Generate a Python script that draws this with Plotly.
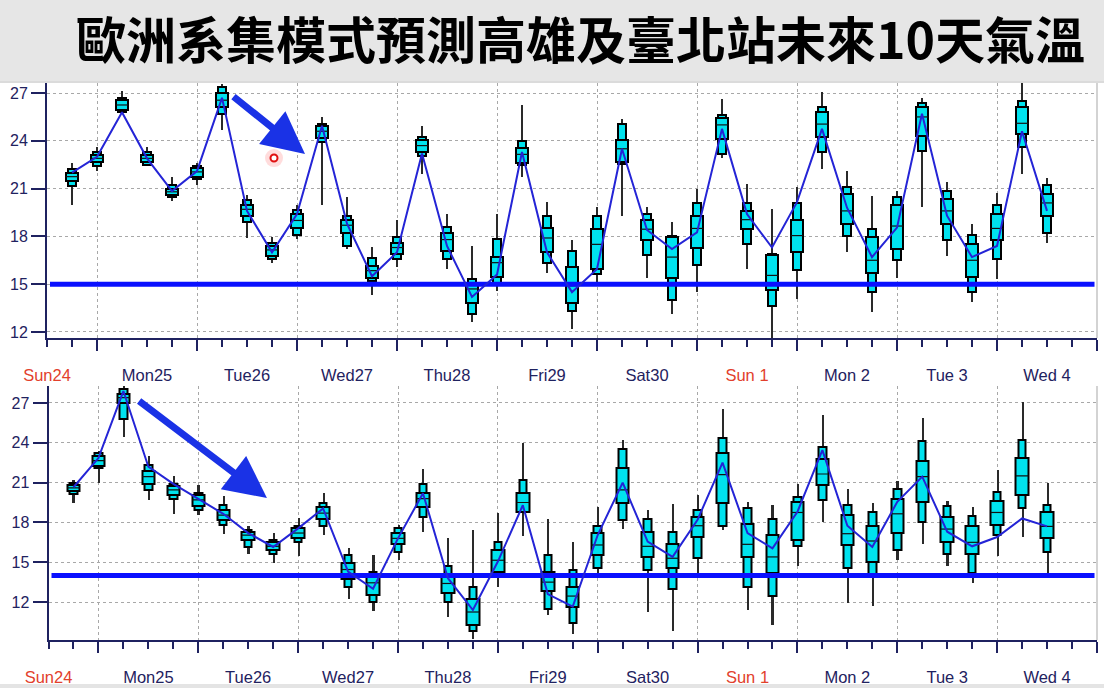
import plotly.graph_objects as go

# ---------------- data ----------------
STEPS = list(range(1, 41))  # 6-hourly steps
DAY_POS = list(range(0, 41, 4))
DAY_LABELS = ["Sun24", "Mon25", "Tue26", "Wed27", "Thu28", "Fri29", "Sat30",
              "Sun 1", "Mon 2", "Tue 3", "Wed 4"]
SUNDAYS = {"Sun24", "Sun 1"}
Y_TICKS = [12, 15, 18, 21, 24, 27]

TITLE = "歐洲系集模式預測高雄及臺北站未來10天氣溫"

# top panel
top_min = [20.0, 22.1, 25.7, 22.45, 20.25, 21.2, 24.7, 17.9, 16.3, 17.85, 20.0, 17.2, 14.3, 16.05, 21.9, 15.95,
           12.6, 14.6, 21.7, 15.7, 12.2, 15.1, 19.3, 15.4, 13.15, 14.5, 22.95, 15.95, 11.65, 14.1, 22.25, 17.0,
           13.25, 15.4, 19.85, 16.8, 13.85, 15.3, 21.9, 17.6]
top_p10 = [21.15, 22.45, 25.8, 22.5, 20.45, 21.6, 25.7, 18.9, 16.6, 18.1, 23.9, 17.4, 15.2, 16.6, 23.05, 16.6,
           13.1, 15.1, 22.5, 16.35, 13.3, 15.65, 22.55, 16.85, 14.0, 16.2, 23.15, 17.5, 13.6, 15.9, 23.3, 18.05,
           14.5, 16.5, 23.35, 17.75, 14.5, 16.6, 23.6, 18.2]
top_p25 = [21.5, 22.65, 25.95, 22.7, 20.6, 21.75, 26.1, 19.3, 16.8, 18.55, 24.2, 18.2, 15.4, 16.9, 23.3, 17.1,
           13.8, 15.45, 22.6, 17.0, 13.8, 15.95, 22.65, 17.8, 15.4, 17.3, 24.1, 18.45, 14.65, 17.0, 24.25, 18.8,
           15.7, 17.2, 24.3, 18.8, 15.45, 17.75, 24.4, 19.3]
top_med = [21.75, 22.9, 26.25, 22.9, 20.8, 22.05, 26.55, 19.7, 17.15, 19.0, 24.6, 18.7, 15.85, 17.3, 23.7, 17.8,
           14.7, 16.35, 23.15, 17.9, 14.9, 17.5, 23.5, 18.45, 16.7, 18.5, 25.0, 19.05, 15.55, 18.05, 25.05, 19.6,
           16.5, 18.65, 25.5, 19.6, 16.5, 18.5, 25.1, 20.1]
top_p75 = [22.0, 23.1, 26.55, 23.1, 21.0, 22.3, 26.98, 20.0, 17.4, 19.4, 24.9, 19.0, 16.15, 17.6, 24.05, 18.2,
           15.1, 16.7, 23.55, 18.55, 16.05, 18.45, 24.05, 19.05, 17.95, 19.25, 25.45, 19.6, 16.85, 19.0, 25.8, 20.65,
           17.95, 20.0, 26.1, 20.35, 17.5, 19.4, 26.1, 20.65]
top_p90 = [22.2, 23.3, 26.7, 23.3, 21.2, 22.45, 27.4, 20.3, 17.6, 19.65, 25.05, 19.25, 16.65, 17.95, 24.25, 18.6,
           15.35, 17.85, 24.0, 19.25, 17.1, 19.3, 25.05, 19.4, 18.0, 20.1, 25.6, 20.1, 16.9, 20.1, 26.1, 21.1,
           18.45, 20.45, 26.35, 20.85, 18.1, 19.95, 26.5, 21.25]
top_max = [22.6, 23.6, 27.1, 23.6, 21.7, 22.6, 27.55, 20.6, 17.95, 20.0, 25.5, 20.45, 17.35, 19.0, 24.95, 19.4,
           17.4, 19.4, 26.25, 20.15, 17.75, 19.85, 25.4, 19.85, 18.9, 21.0, 26.6, 21.3, 19.75, 21.1, 27.05, 22.1,
           20.55, 20.85, 26.7, 21.4, 18.8, 20.75, 27.65, 21.65]
top_line = [22.0, 23.0, 25.8, 22.9, 20.85, 22.1, 26.7, 19.6, 17.0, 19.4, 24.95, 18.8, 15.5, 17.0, 23.2, 17.4,
            14.2, 15.6, 23.3, 17.0, 14.5, 15.95, 23.5, 18.4, 17.2, 18.25, 24.75, 19.4, 17.3, 20.15, 24.75, 19.8,
            16.7, 18.55, 25.7, 19.3, 16.7, 17.4, 24.6, 19.6]
top_threshold = 15

# bottom panel
bot_min = [19.5, 21.0, 24.45, 19.7, 18.65, 18.55, 17.1, 15.65, 14.95, 15.45, 17.05, 12.2, 11.35, 15.15, 17.3, 10.85,
           9.2, 13.15, 17.0, 11.0, 9.6, 14.15, 17.5, 11.25, 9.85, 14.15, 17.45, 11.4, 10.25, 14.7, 18.05, 11.95,
           11.7, 15.2, 16.4, 14.7, 13.45, 15.45, 16.9, 14.2]
bot_p10 = [20.15, 22.1, 25.8, 20.45, 19.75, 18.9, 17.8, 16.15, 15.65, 16.55, 17.7, 13.15, 12.0, 15.8, 18.4, 12.0,
           9.8, 14.25, 18.75, 11.45, 10.4, 14.55, 18.2, 14.4, 12.95, 15.35, 17.7, 13.1, 12.45, 16.2, 19.7, 14.6,
           14.0, 15.9, 18.05, 15.65, 14.2, 17.05, 19.05, 15.8]
bot_p25 = [20.4, 22.25, 27.0, 20.9, 20.1, 19.25, 18.15, 16.7, 15.9, 16.85, 18.25, 13.7, 12.5, 16.35, 19.15, 12.65,
           10.3, 14.3, 18.8, 12.85, 11.65, 15.55, 19.5, 15.4, 14.55, 16.9, 19.5, 15.4, 14.2, 16.7, 20.85, 16.3,
           15.05, 17.2, 19.55, 16.5, 15.65, 17.8, 20.05, 16.85]
bot_med = [20.6, 22.65, 27.4, 21.45, 20.45, 19.7, 18.55, 17.05, 16.2, 17.2, 18.7, 14.45, 13.45, 16.8, 19.8, 13.4,
           11.25, 15.15, 19.5, 13.5, 12.45, 16.3, 20.45, 16.2, 15.3, 17.75, 21.6, 16.35, 15.4, 18.75, 21.65, 17.15,
           16.6, 18.65, 21.45, 17.5, 16.5, 18.75, 21.5, 17.7]
bot_p75 = [20.85, 23.0, 27.7, 21.9, 20.75, 20.05, 18.95, 17.3, 16.55, 17.55, 19.15, 14.95, 13.9, 17.2, 20.25, 14.05,
           12.25, 15.9, 20.25, 14.3, 13.15, 17.2, 22.1, 17.3, 16.4, 18.4, 23.25, 17.9, 17.05, 19.55, 22.75, 18.55,
           17.75, 19.8, 22.6, 18.4, 17.7, 19.65, 22.85, 18.8]
bot_p90 = [21.0, 23.2, 28.05, 22.35, 20.9, 20.25, 19.3, 17.45, 16.7, 17.7, 19.5, 15.55, 14.3, 17.55, 20.9, 14.7,
           13.15, 16.55, 21.2, 15.55, 14.45, 17.7, 23.5, 18.25, 17.3, 18.95, 24.35, 19.05, 18.25, 19.95, 23.7, 19.3,
           18.8, 20.5, 24.1, 19.25, 18.45, 20.3, 24.2, 19.3]
bot_max = [21.2, 23.4, 28.25, 23.0, 21.5, 20.85, 20.0, 17.7, 17.2, 18.3, 20.2, 16.05, 15.55, 17.8, 22.0, 16.8,
           17.4, 18.7, 24.0, 18.25, 16.55, 19.2, 24.2, 18.9, 19.4, 20.1, 26.55, 19.55, 19.3, 20.9, 26.1, 20.5,
           19.45, 21.1, 25.85, 19.65, 19.2, 21.95, 27.1, 21.0]
bot_line = [20.65, 22.85, 27.9, 22.2, 20.9, 19.8, 18.65, 17.2, 16.15, 17.55, 19.05, 14.3, 13.0, 16.8, 20.2, 13.8,
            11.4, 15.05, 19.3, 12.6, 11.65, 17.05, 21.0, 16.55, 15.4, 18.2, 22.5, 17.2, 16.05, 18.8, 23.45, 17.75,
            16.15, 19.55, 21.45, 17.3, 16.2, 16.9, 18.3, 17.7]
bot_threshold = 14

# ---------------- style ----------------
W, H = 1104, 688
NAVY = "#1f2260"
RED = "#e2402c"
CYAN = "#00e2ee"
LINE_BLUE = "#2424d6"
THR_BLUE = "#0a10ff"
ARROW_BLUE = "#1a32e6"
GRID = "#a8a8a8"
FONT = "Liberation Sans"

fig = go.Figure()


def add_panel(xa, ya, mn, p10, p25, med, p75, p90, mx, line, thr):
    xr, yr = xa, ya
    # whiskers (min-max)
    fig.add_trace(go.Bar(x=STEPS, base=mn, y=[b - a for a, b in zip(mn, mx)], width=0.08,
                         marker=dict(color="#2a2a2a", line=dict(width=0)),
                         xaxis=xr, yaxis=yr, hoverinfo="skip"))
    # 10-90 narrow box
    fig.add_trace(go.Bar(x=STEPS, base=p10, y=[b - a for a, b in zip(p10, p90)], width=0.30,
                         marker=dict(color=CYAN, line=dict(color="black", width=2)),
                         xaxis=xr, yaxis=yr, hoverinfo="skip"))
    # 25-75 wide box
    fig.add_trace(go.Bar(x=STEPS, base=p25, y=[b - a for a, b in zip(p25, p75)], width=0.5,
                         marker=dict(color=CYAN, line=dict(color="black", width=2)),
                         xaxis=xr, yaxis=yr, hoverinfo="skip"))
    # medians
    mx_, my_ = [], []
    for s, m in zip(STEPS, med):
        mx_ += [s - 0.25, s + 0.25, None]
        my_ += [m, m, None]
    fig.add_trace(go.Scatter(x=mx_, y=my_, mode="lines", line=dict(color="#111111", width=1.2),
                             xaxis=xr, yaxis=yr, hoverinfo="skip"))
    # threshold line
    fig.add_trace(go.Scatter(x=[0.12, 41.9], y=[thr, thr], mode="lines",
                             line=dict(color=THR_BLUE, width=5),
                             xaxis=xr, yaxis=yr, hoverinfo="skip"))
    # deterministic line
    fig.add_trace(go.Scatter(x=STEPS, y=line, mode="lines", line=dict(color=LINE_BLUE, width=2),
                             xaxis=xr, yaxis=yr, hoverinfo="skip"))


add_panel("x", "y", top_min, top_p10, top_p25, top_med, top_p75, top_p90, top_max, top_line, top_threshold)
add_panel("x2", "y2", bot_min, bot_p10, bot_p25, bot_med, bot_p75, bot_p90, bot_max, bot_line, bot_threshold)

# red cursor dot in top panel
fig.add_trace(go.Scatter(x=[9.08], y=[22.92], mode="markers",
                         marker=dict(size=18, color="rgba(255,60,60,0.18)", line=dict(width=0)),
                         xaxis="x", yaxis="y", hoverinfo="skip"))
fig.add_trace(go.Scatter(x=[9.08], y=[22.92], mode="markers",
                         marker=dict(size=7, color="white", symbol="circle",
                                     line=dict(color="#e01010", width=2)),
                         xaxis="x", yaxis="y", hoverinfo="skip"))

# invisible traces to carry the day-label axes
fig.add_trace(go.Scatter(x=DAY_POS, y=[None] * len(DAY_POS), mode="markers", xaxis="x3", yaxis="y",
                         hoverinfo="skip"))
fig.add_trace(go.Scatter(x=DAY_POS, y=[None] * len(DAY_POS), mode="markers", xaxis="x4", yaxis="y2",
                         hoverinfo="skip"))

day_text = [f'<span style="color:{RED}">{d}</span>' if d in SUNDAYS else d for d in DAY_LABELS]
major = list(range(2, 43, 4))
minor = [v for v in range(0, 43) if v not in major]


def xaxis_main(domain, anchor):
    return dict(domain=domain, anchor=anchor, range=[0, 42], tickmode="array", tickvals=major,
                showticklabels=False, ticks="outside", ticklen=11, tickwidth=2, tickcolor=NAVY,
                showline=True, linecolor=NAVY, linewidth=2, automargin=False,
                showgrid=True, gridcolor=GRID, griddash="dot", gridwidth=1,
                minor=dict(tickmode="array", tickvals=minor, ticks="outside", ticklen=7,
                           tickwidth=1.5, tickcolor=NAVY, showgrid=False),
                zeroline=False, fixedrange=True)


def xaxis_labels(overlay, anchor):
    return dict(overlaying=overlay, anchor=anchor, side="bottom", range=[0, 42], tickmode="array",
                tickvals=DAY_POS, ticktext=day_text, ticks="outside", ticklen=22, automargin=False,
                tickcolor="rgba(0,0,0,0)", showline=False, showgrid=False, zeroline=False,
                tickfont=dict(family=FONT, size=16.5, color=NAVY))


def yaxis(domain, anchor, rng):
    return dict(domain=domain, anchor=anchor, range=rng, tickmode="array", tickvals=Y_TICKS,
                ticks="outside", ticklen=14, tickwidth=2, tickcolor=NAVY, automargin=False,
                showline=True, linecolor=NAVY, linewidth=2,
                showgrid=True, gridcolor=GRID, griddash="dot", gridwidth=1, zeroline=False,
                tickfont=dict(family=FONT, size=16, color=NAVY))


top_x = [47 / W, 1097 / W]
bot_x = [48.5 / W, 1097 / W]
top_y = [1 - 338 / H, 1 - 83 / H]
bot_y = [1 - 640 / H, 1 - 386 / H]

fig.update_layout(
    width=W, height=H, margin=dict(l=0, r=0, t=0, b=0, autoexpand=False),
    paper_bgcolor="white", plot_bgcolor="white",
    barmode="overlay", bargap=0, showlegend=False,
    xaxis=xaxis_main(top_x, "y"),
    xaxis2=xaxis_main(bot_x, "y2"),
    xaxis3=xaxis_labels("x", "y"),
    xaxis4=xaxis_labels("x2", "y2"),
    yaxis=yaxis(top_y, "x", [11.62, 27.63]),
    yaxis2=yaxis(bot_y, "x2", [9.14, 28.28]),
    font=dict(family=FONT, color=NAVY),
)

# background bands and frame
fig.add_shape(type="rect", xref="paper", yref="paper", x0=0, x1=1, y0=1 - 81 / H, y1=1,
              fillcolor="#e6e6e6", line=dict(width=0), layer="below")
fig.add_shape(type="line", xref="paper", yref="paper", x0=0, x1=1, y0=1 - 82 / H, y1=1 - 82 / H,
              line=dict(color="#cfcfcf", width=1.5))
fig.add_shape(type="rect", xref="paper", yref="paper", x0=0, x1=1, y0=0, y1=4 / H,
              fillcolor="#e4e4e4", line=dict(width=0), layer="below")
for xr, yr in (("x", "y"), ("x2", "y2")):
    fig.add_shape(type="line", xref=f"{xr} domain", yref=f"{yr} domain", x0=1, x1=1, y0=0, y1=1,
                  line=dict(color="#c4c4c4", width=1.5))

# title
fig.add_annotation(x=580 / W, y=1 - 37 / H, xref="paper", yref="paper", showarrow=False,
                   text=f"<b>{TITLE}</b>", xanchor="center", yanchor="middle", borderpad=0,
                   font=dict(family="Noto Sans CJK TC", size=50, color="black"))

# arrows
fig.add_annotation(x=10.32, y=23.17, ax=7.4, ay=26.85, xref="x", yref="y", axref="x", ayref="y",
                   text="", showarrow=True, arrowhead=2, arrowsize=1.2, arrowwidth=7,
                   arrowcolor=ARROW_BLUE)
fig.add_annotation(x=8.75, y=19.84, ax=3.57, ay=27.23, xref="x2", yref="y2", axref="x2", ayref="y2",
                   text="", showarrow=True, arrowhead=2, arrowsize=1.2, arrowwidth=7,
                   arrowcolor=ARROW_BLUE)

fig.write_html("out.html")
